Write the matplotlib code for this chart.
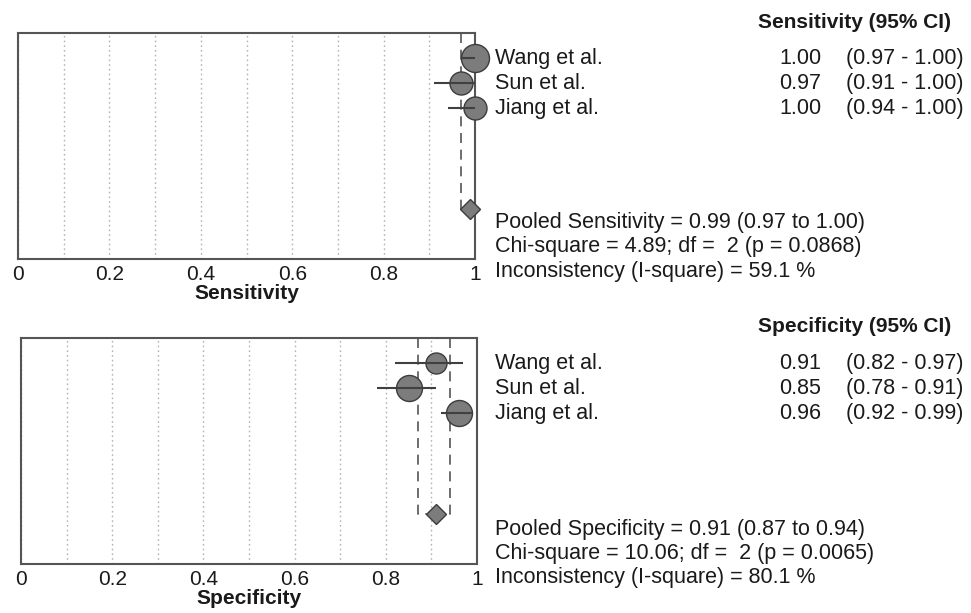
import matplotlib
matplotlib.use("Agg")
import matplotlib.pyplot as plt
import matplotlib.transforms as mtransforms

plt.rcParams['font.family'] = ['Liberation Sans', 'DejaVu Sans']

# ---------------- data ----------------
studies = ["Wang et al.", "Sun et al.", "Jiang et al."]

sens_est = [1.00, 0.97, 1.00]
sens_lo = [0.97, 0.91, 0.94]
sens_hi = [1.00, 1.00, 1.00]
sens_pooled = 0.99
sens_pooled_lo = 0.97
sens_pooled_hi = 1.00
sens_stats = ["Pooled Sensitivity = 0.99 (0.97 to 1.00)",
              "Chi-square = 4.89; df =  2 (p = 0.0868)",
              "Inconsistency (I-square) = 59.1 %"]

spec_est = [0.91, 0.85, 0.96]
spec_lo = [0.82, 0.78, 0.92]
spec_hi = [0.97, 0.91, 0.99]
spec_pooled = 0.91
spec_pooled_lo = 0.87
spec_pooled_hi = 0.94
spec_stats = ["Pooled Specificity = 0.91 (0.87 to 0.94)",
              "Chi-square = 10.06; df =  2 (p = 0.0065)",
              "Inconsistency (I-square) = 80.1 %"]

x_ticks = [0, 0.2, 0.4, 0.6, 0.8, 1]
x_ticklabels = ["0", "0.2", "0.4", "0.6", "0.8", "1"]

# study weights shown as marker diameters (pixels)
sens_marker_px = [28, 23, 23]
spec_marker_px = [21, 26, 26]

# ---------------- style ----------------
W, H = 971, 613
DPI = 100
FS = 15.5
FS_TICK = 15
FS_BOLD = 15
TXT = "#1a1a1a"
FILL = "#7c7c7c"
EDGE = "#3c3c3c"
LINE = "#404040"
GRID = "#b4b4b4"
SPINE = "#555555"

fig = plt.figure(figsize=(W / DPI, H / DPI), dpi=DPI)
fig.patch.set_facecolor("white")


def fx(x):
    return x / W


def fy(y):
    return 1 - y / H


def panel(box, est, lo, hi, pooled, plo, phi, mpx, xlabel, header, stats,
          header_y, stats_y):
    l, t, r, b = box
    ax = fig.add_axes([fx(l), fy(b), fx(r) - fx(l), fy(t) - fy(b)])
    ax.set_xlim(0, 1)
    ax.set_ylim(8, -1)
    ax.set_yticks([])
    ax.set_xticks(x_ticks)
    ax.set_xticklabels(x_ticklabels, fontsize=FS_TICK, color=TXT)
    ax.set_xticks([0.1, 0.3, 0.5, 0.7, 0.9], minor=True)
    ax.tick_params(axis='x', which='both', length=0, pad=4)
    ax.xaxis.grid(True, which='both', color=GRID, linestyle=(0, (1.2, 2.2)),
                  linewidth=1.0, zorder=0)
    ax.set_axisbelow(True)
    for s in ax.spines.values():
        s.set_color(SPINE)
        s.set_linewidth(1.5)
    ax.set_xlabel(xlabel, fontsize=FS_BOLD, fontweight='bold', color=TXT,
                  labelpad=0)

    rows = list(range(len(est)))
    pooled_row = 6
    # pooled CI bracket
    ax.plot([plo, plo, pooled], [-1, pooled_row, pooled_row], color=SPINE,
            lw=1.2, linestyle=(0, (6, 4)), zorder=2, clip_on=False)
    ax.plot([phi, phi, pooled], [-1, pooled_row, pooled_row], color=SPINE,
            lw=1.2, linestyle=(0, (6, 4)), zorder=2, clip_on=False)
    # study markers
    for i in rows:
        ax.plot([est[i]], [i], marker='o', markersize=mpx[i] * 72 / DPI,
                markerfacecolor=FILL, markeredgecolor=EDGE, markeredgewidth=1.0,
                linestyle='none', zorder=3, clip_on=False)
        ax.plot([lo[i], hi[i]], [i, i], color=LINE, lw=1.5, zorder=4,
                clip_on=False, solid_capstyle='butt')
    ax.plot([pooled], [pooled_row], marker='D', markersize=10,
            markerfacecolor=FILL, markeredgecolor=EDGE, markeredgewidth=1.0,
            linestyle='none', zorder=5, clip_on=False)

    tr = mtransforms.blended_transform_factory(fig.transFigure, ax.transData)
    for i in rows:
        fig.text(fx(495), i, studies[i], transform=tr, fontsize=FS, color=TXT,
                 ha='left', va='center')
        fig.text(fx(821), i, f"{est[i]:.2f}", transform=tr, fontsize=FS,
                 color=TXT, ha='right', va='center')
        fig.text(fx(846), i, f"({lo[i]:.2f} - {hi[i]:.2f})", transform=tr,
                 fontsize=FS, color=TXT, ha='left', va='center')
    fig.text(fx(758), fy(header_y), header, fontsize=FS_BOLD, fontweight='bold',
             color=TXT, ha='left', va='center')
    for k, s in enumerate(stats):
        fig.text(fx(495), fy(stats_y[k]), s, fontsize=FS, color=TXT,
                 ha='left', va='center')
    return ax


panel((18, 33, 475, 259), sens_est, sens_lo, sens_hi, sens_pooled,
      sens_pooled_lo, sens_pooled_hi, sens_marker_px, "Sensitivity",
      "Sensitivity (95% CI)", sens_stats, 22, [223, 247, 271])
panel((21, 338, 477, 564), spec_est, spec_lo, spec_hi, spec_pooled,
      spec_pooled_lo, spec_pooled_hi, spec_marker_px, "Specificity",
      "Specificity (95% CI)", spec_stats, 327, [530, 554, 578])

fig.savefig("out.png", dpi=DPI, facecolor="white")
